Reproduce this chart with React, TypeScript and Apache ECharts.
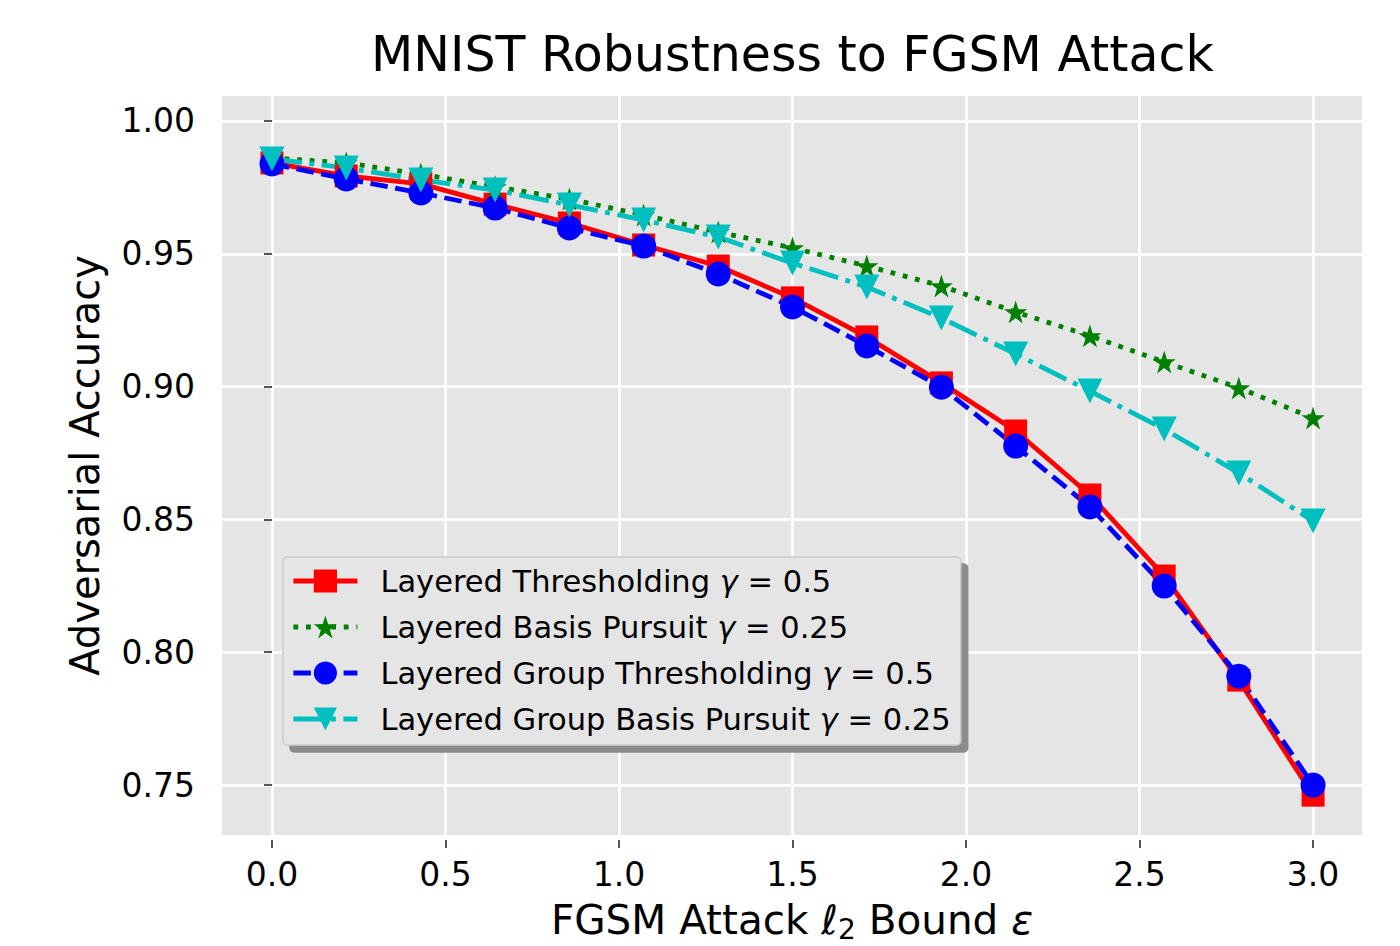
import React, { useEffect, useRef } from "react";
import * as echarts from "echarts";

const FONT = "DejaVu Sans";

const eps = [0, 0.214, 0.429, 0.643, 0.857, 1.071, 1.286, 1.5, 1.714, 1.929, 2.143, 2.357, 2.571, 2.786, 3.0];

const layeredThresholding = [0.9842, 0.9793, 0.9763, 0.9687, 0.9616, 0.9533, 0.9454, 0.9334, 0.9187, 0.9014, 0.8833, 0.8592, 0.8287, 0.7895, 0.7462];
const layeredBasisPursuit = [0.9861, 0.9842, 0.98, 0.9752, 0.9706, 0.9646, 0.9582, 0.9522, 0.9454, 0.9379, 0.9281, 0.9191, 0.9093, 0.8995, 0.8882];
const layeredGroupThresholding = [0.9838, 0.9782, 0.9729, 0.9672, 0.9597, 0.9529, 0.9424, 0.93, 0.9153, 0.8998, 0.8776, 0.8547, 0.8249, 0.791, 0.75];
const layeredGroupBasisPursuit = [0.9857, 0.9823, 0.9778, 0.974, 0.9684, 0.9627, 0.9563, 0.9465, 0.9375, 0.9258, 0.9123, 0.8983, 0.884, 0.8675, 0.8494];

const seriesNames = [
  "Layered Thresholding γ = 0.5",
  "Layered Basis Pursuit γ = 0.25",
  "Layered Group Thresholding γ = 0.5",
  "Layered Group Basis Pursuit γ = 0.25",
];

const xTicks = [0, 0.5, 1.0, 1.5, 2.0, 2.5, 3.0];
const yTicks = [0.75, 0.8, 0.85, 0.9, 0.95, 1.0];

const STAR = "path://M0,-1 L0.2245,-0.309 L0.951,-0.309 L0.363,0.118 L0.588,0.809 L0,0.382 L-0.588,0.809 L-0.363,0.118 L-0.951,-0.309 L-0.2245,-0.309 Z";
const TRI_DOWN = "path://M-1,-1 L1,-1 L0,1 Z";

export default function App() {
  const ref = useRef<HTMLDivElement>(null);
  useEffect(() => {
    document.body.style.margin = "0";
    const chart = echarts.init(ref.current!, null, { renderer: "svg" });
    const pair = (ys: number[]) => eps.map((x, i) => [x, ys[i]]);
    const LW = 4.8;
    const option: any = {
      animation: false,
      backgroundColor: "#ffffff",
      textStyle: { fontFamily: FONT },
      title: {
        text: "MNIST Robustness to FGSM Attack",
        left: 371,
        top: 30,
        padding: 0,
        textStyle: { fontFamily: FONT, fontSize: 49, fontWeight: "normal", color: "#000" },
      },
      grid: {
        left: 222,
        top: 96,
        width: 1140,
        height: 739,
        show: true,
        backgroundColor: "#E5E5E5",
        borderWidth: 0,
        containLabel: false,
        outerBoundsMode: "none",
      },
      xAxis: {
        type: "value",
        min: -0.144,
        max: 3.141,
        offset: 5,
        axisLine: { show: false },
        axisTick: { show: true, length: 8, lineStyle: { color: "#555", width: 2 }, customValues: xTicks },
        axisLabel: {
          customValues: xTicks,
          formatter: (v: number) => v.toFixed(1),
          fontSize: 33,
          fontFamily: FONT,
          color: "#000",
          margin: 18,
        },
        splitLine: { show: true, lineStyle: { color: "#ffffff", width: 2.5 } },
        name: "FGSM Attack {l|ℓ}{s|2} Bound {e|ε}",
        nameLocation: "middle",
        nameGap: 54,
        nameTextStyle: {
          fontSize: 40.5,
          fontFamily: FONT,
          color: "#000",
          lineHeight: 48,
          rich: {
            l: { fontSize: 40.5, fontFamily: FONT, fontStyle: "italic", color: "#000", lineHeight: 48 },
            s: { fontSize: 28, fontFamily: FONT, color: "#000", lineHeight: 28, verticalAlign: "bottom" },
            e: { fontSize: 40.5, fontFamily: FONT, fontStyle: "italic", color: "#000", lineHeight: 48 },
          },
        },
      },
      yAxis: {
        type: "value",
        min: 0.7312,
        max: 1.0094,
        offset: 4,
        axisLine: { show: false },
        axisTick: { show: true, length: 8, lineStyle: { color: "#555", width: 2 }, customValues: yTicks },
        axisLabel: {
          customValues: yTicks,
          formatter: (v: number) => v.toFixed(2),
          fontSize: 33,
          fontFamily: FONT,
          color: "#000",
          margin: 23,
        },
        splitLine: { show: true, lineStyle: { color: "#ffffff", width: 2.5 } },
        name: "Adversarial Accuracy",
        nameLocation: "middle",
        nameRotate: 90,
        nameGap: 113,
        nameTextStyle: { fontSize: 40, fontFamily: FONT, color: "#000" },
      },
      legend: {
        orient: "vertical",
        left: 283,
        top: 557,
        padding: [8, 10, 10, 8],
        itemWidth: 64,
        itemHeight: 29,
        itemGap: 14,
        backgroundColor: "#E5E5E5",
        borderColor: "#CCCCCC",
        borderWidth: 1.5,
        borderRadius: 4,
        shadowColor: "#8c8c8c",
        shadowBlur: 0,
        shadowOffsetX: 7,
        shadowOffsetY: 7,
        lineStyle: { width: LW },
        data: seriesNames,
        formatter: (name: string) => name.replace("γ", "{i|γ}"),
        textStyle: {
          fontSize: 30.5,
          fontFamily: FONT,
          color: "#000",
          lineHeight: 32,
          padding: [0, 0, 0, 18],
          rich: {
            i: { fontSize: 30.5, fontFamily: FONT, fontStyle: "italic", color: "#000", lineHeight: 32 },
          },
        },
      },
      series: [
        {
          name: seriesNames[0],
          type: "line",
          data: pair(layeredThresholding),
          symbol: "rect",
          symbolSize: 23,
          showAllSymbol: true,
          itemStyle: { color: "#ff0000" },
          lineStyle: { color: "#ff0000", width: LW, type: "solid" },
        },
        {
          name: seriesNames[1],
          type: "line",
          data: pair(layeredBasisPursuit),
          symbol: STAR,
          symbolSize: 23,
          showAllSymbol: true,
          itemStyle: { color: "#008000" },
          lineStyle: { color: "#008000", width: LW, type: [4.8, 7.8] },
        },
        {
          name: seriesNames[2],
          type: "line",
          data: pair(layeredGroupThresholding),
          symbol: "circle",
          symbolSize: 25,
          showAllSymbol: true,
          itemStyle: { color: "#0000ff" },
          lineStyle: { color: "#0000ff", width: LW, type: [17.5, 7.6] },
        },
        {
          name: seriesNames[3],
          type: "line",
          data: pair(layeredGroupBasisPursuit),
          symbol: TRI_DOWN,
          symbolSize: 25,
          showAllSymbol: true,
          itemStyle: { color: "#00bfbf" },
          lineStyle: { color: "#00bfbf", width: LW, type: [30, 7.6, 4.8, 7.6] },
        },
      ],
    };
    chart.setOption(option);
    return () => chart.dispose();
  }, []);
  return <div ref={ref} style={{ width: 1400, height: 946 }} />;
}
